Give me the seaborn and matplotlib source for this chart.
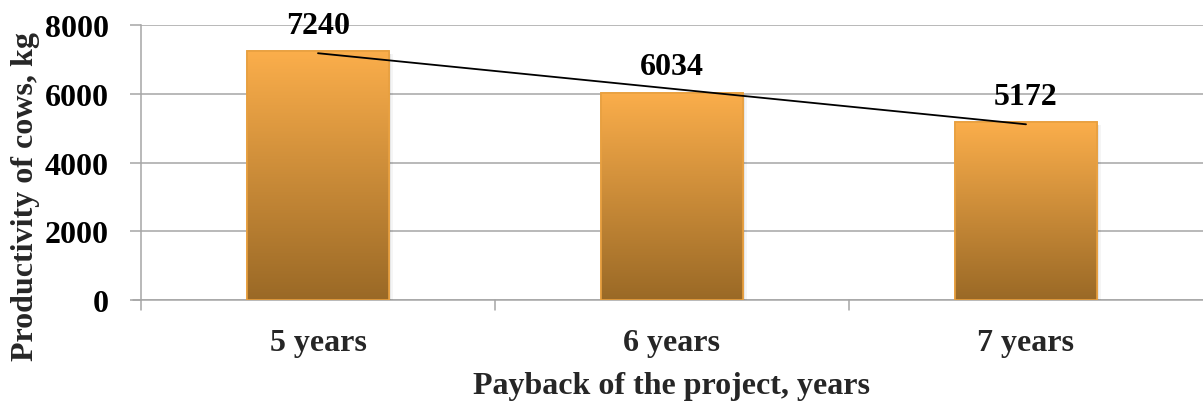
import numpy as np
import pandas as pd
import matplotlib
matplotlib.use("Agg")
import matplotlib.pyplot as plt
import seaborn as sns
from matplotlib.colors import LinearSegmentedColormap

categories = ["5 years", "6 years", "7 years"]
values = [7240, 6034, 5172]
yticks = [0, 2000, 4000, 6000, 8000]

sns.set_theme(style="white")
plt.rcParams['font.family'] = ['Liberation Serif', 'DejaVu Serif']
plt.rcParams['font.weight'] = 'bold'

FS = 23

fig = plt.figure(figsize=(12.03, 4.02), dpi=100)
ax = fig.add_axes([0.1172, 0.251, 0.8828, 0.684])

df = pd.DataFrame({"cat": categories, "val": values})
sns.barplot(data=df, x="cat", y="val", ax=ax, width=0.4, color="#E8A040",
            edgecolor="#E8A040", linewidth=1.2, zorder=3)

ax.set_xlim(-0.5, 2.5)
ax.set_ylim(0, 8000)

cmap = LinearSegmentedColormap.from_list("g", ["#9A6926", "#FBAE4B"])
grad = np.linspace(0, 1, 256).reshape(-1, 1)
for p in list(ax.patches):
    x0, y0 = p.get_x(), p.get_y()
    w, h = p.get_width(), p.get_height()
    im = ax.imshow(grad, cmap=cmap, aspect="auto", origin="lower",
                   extent=[x0, x0 + w, y0, y0 + h], zorder=3.5)
    im.set_clip_path(p)
    # soft shadow
    for k_, a_ in [(0.006, 0.06), (0.011, 0.04)]:
        ax.add_patch(plt.Rectangle((x0 + k_, y0), w, h - 80, facecolor="#000000",
                                   alpha=a_, edgecolor="none", zorder=2.5))
    ax.add_patch(plt.Rectangle((x0, y0), w, h, facecolor="none",
                               edgecolor="#E8A040", linewidth=1.2, zorder=4))

# linear trend line
xs = np.arange(len(values))
k, b = np.polyfit(xs, values, 1)
ax.plot(xs, k * xs + b, color="black", linewidth=1.3, zorder=5)

for i, v in enumerate(values):
    ax.text(i, v + 760, str(v), ha="center", va="center", fontsize=FS,
            fontweight="bold", color="black", zorder=6)

ax.set_yticks(yticks)
ax.set_yticklabels([str(t) for t in yticks], fontsize=FS, fontweight="bold")
ax.set_xticks(range(len(categories)))
ax.set_xticklabels(categories, fontsize=FS, fontweight="bold")
ax.grid(axis="y", color="#A6A6A6", linewidth=1.1, zorder=0)
ax.set_axisbelow(True)

for s in ["top", "right", "bottom"]:
    ax.spines[s].set_visible(False)
ax.spines["left"].set_color("#A6A6A6")
ax.spines["left"].set_linewidth(1.1)
ax.spines["left"].set_bounds(0, 8000)

ax.tick_params(axis="y", length=8, width=1.1, pad=15, left=True, colors="black")
ax.tick_params(axis="y", color="#A6A6A6")
ax.tick_params(axis="x", length=0, pad=20)

# category separator ticks below axis
for xb in [-0.5, 0.5, 1.5]:
    ax.plot([xb, xb], [0, -280], color="#A6A6A6", linewidth=1.1, clip_on=False, zorder=1)
ax.plot([-0.5 - 0.022, 2.5], [0, 0], color="#A6A6A6", linewidth=1.1, clip_on=False, zorder=1)

ax.set_xlabel("Payback of the project, years", fontsize=FS, fontweight="bold")
ax.set_ylabel("Productivity of cows, kg", fontsize=FS, fontweight="bold")
ax.xaxis.set_label_coords(0.5, -0.257)
ax.yaxis.set_label_coords(-0.095, 0.38)

fig.savefig("out.png", dpi=100)
